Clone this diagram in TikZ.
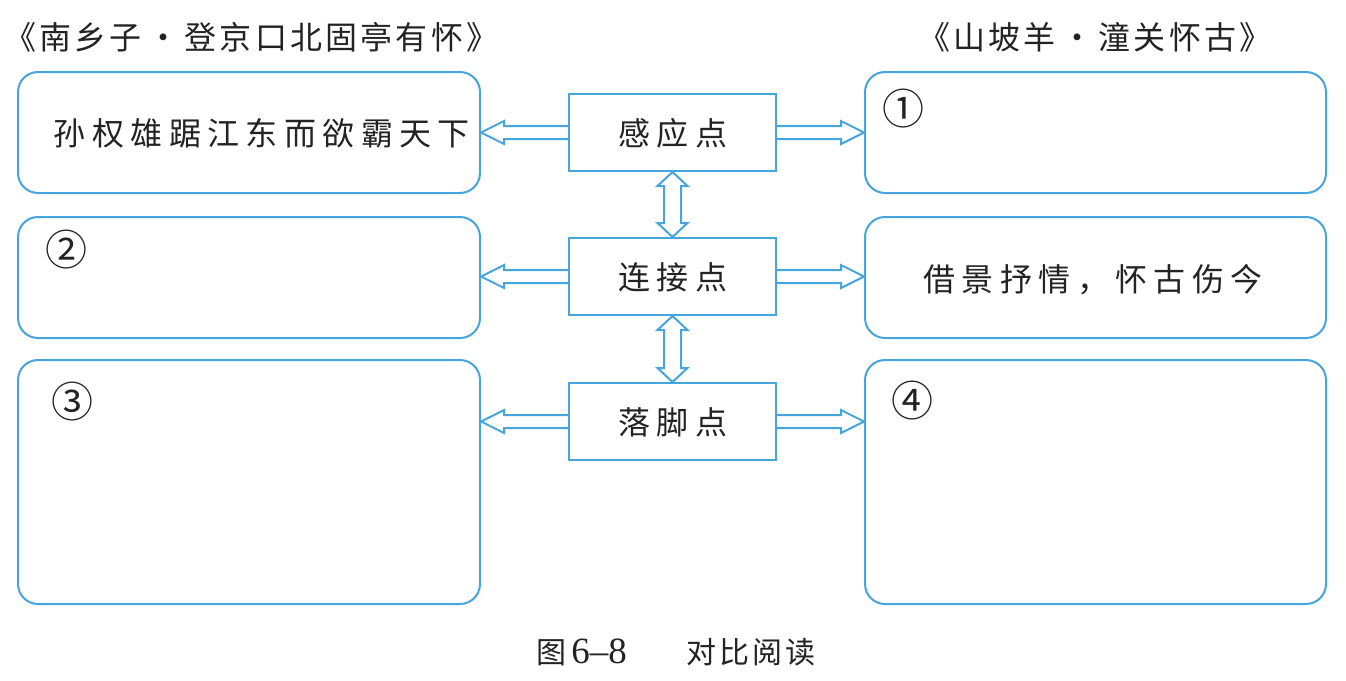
\documentclass[tikz,border=0pt]{standalone}
\usepackage{fontspec}
\newfontfamily\cjk[LetterSpace=20]{Noto Sans CJK SC}
\newfontfamily\cjkt[LetterSpace=10]{Noto Sans CJK SC}
\newfontfamily\cjkcap[LetterSpace=10]{Noto Sans CJK SC}
\newfontfamily\capnum{Liberation Serif}
\usetikzlibrary{calc,fit}
\definecolor{lb}{RGB}{70,165,220}
\definecolor{ink}{RGB}{35,35,35}
\tikzset{
  rbox/.style={draw=lb, line width=1pt, rounded corners=10pt, inner sep=0pt},
  cbox/.style={draw=lb, line width=1pt, inner sep=0pt},
  txt/.style={text=ink, font=\cjk\fontsize{16}{19}\selectfont, inner sep=0pt},
  ttl/.style={text=ink, font=\cjkt\fontsize{16}{19}\selectfont, inner sep=0pt},
  numtxt/.style={text=ink, font=\cjk\fontsize{21}{24}\selectfont, inner sep=0pt},
  captxt/.style={text=ink, font=\cjkcap\fontsize{15}{18}\selectfont, inner sep=0pt},
  barrow/.style={draw=lb, line width=1pt, line join=miter},
}
\newcommand\harr[3]{%
  \draw[barrow] ($(#1)+(0,-6.5)$) -- ($(#2)+(#3*-23,-6.5)$) -- ($(#2)+(#3*-23,-11.5)$) -- (#2)
    -- ($(#2)+(#3*-23,11.5)$) -- ($(#2)+(#3*-23,6.5)$) -- ($(#1)+(0,6.5)$);}
\newcommand\varr[2]{%
  \draw[barrow] (#1) -- ($(#1)+(-15,14)$) -- ($(#1)+(-8.5,14)$) -- ($(#2)+(-8.5,-14)$)
    -- ($(#2)+(-15,-14)$) -- (#2) -- ($(#2)+(15,-14)$) -- ($(#2)+(8.5,-14)$)
    -- ($(#1)+(8.5,14)$) -- ($(#1)+(15,14)$) -- cycle;}
\begin{document}
\begin{tikzpicture}[x=0.5pt,y=-0.5pt]
\useasboundingbox[fill=white] (0,0) rectangle (1346,681);
% titles
\node[ttl, anchor=west] (tl) at (4,37) {《南乡子\,·\,登京口北固亭有怀》};
\node[ttl, anchor=west] (tr) at (918,37) {《山坡羊\,·\,潼关怀古》};
% left boxes
\node[rbox, fit={(18,72)(480,193)}] (l1) {};
\node[rbox, fit={(18,217)(480,338)}] (l2) {};
\node[rbox, fit={(18,360)(480,604)}] (l3) {};
% right boxes
\node[rbox, fit={(865,72)(1326,193)}] (r1) {};
\node[rbox, fit={(865,217)(1326,338)}] (r2) {};
\node[rbox, fit={(865,360)(1326,604)}] (r3) {};
% centre boxes
\node[cbox, fit={(569,94)(776,171)}] (c1) {};
\node[cbox, fit={(569,238)(776,315)}] (c2) {};
\node[cbox, fit={(569,383)(776,460)}] (c3) {};
\node[txt] (k1) at (673,133) {感应点};
\node[txt] (k2) at (673,277) {连接点};
\node[txt] (k3) at (673,422) {落脚点};
% texts in boxes
\node[txt] (t1) at (262,133) {孙权雄踞江东而欲霸天下};
\node[txt] (t2) at (1093,280) {借景抒情，怀古伤今};
\node[numtxt] (n1) at (903,109) {①};
\node[numtxt] (n2) at (67,250) {②};
\node[numtxt] (n3) at (72,402) {③};
\node[numtxt] (n4) at (912,401) {④};
% arrows
\harr{c1.west}{l1.east|-c1.west}{-1}
\harr{c2.west}{l2.east|-c2.west}{-1}
\harr{c3.west}{l3.east|-c3.west}{-1}
\harr{c1.east}{r1.west|-c1.east}{1}
\harr{c2.east}{r2.west|-c2.east}{1}
\harr{c3.east}{r3.west|-c3.east}{1}
\varr{c1.south}{c2.north}
\varr{c2.south}{c3.north}
% caption
\node[captxt, anchor=west] (cap) at (536,652) {图\,{\capnum\fontsize{18.5}{20}\selectfont 6–8}\hspace{2.0em}对比阅读};
\end{tikzpicture}
\end{document}
